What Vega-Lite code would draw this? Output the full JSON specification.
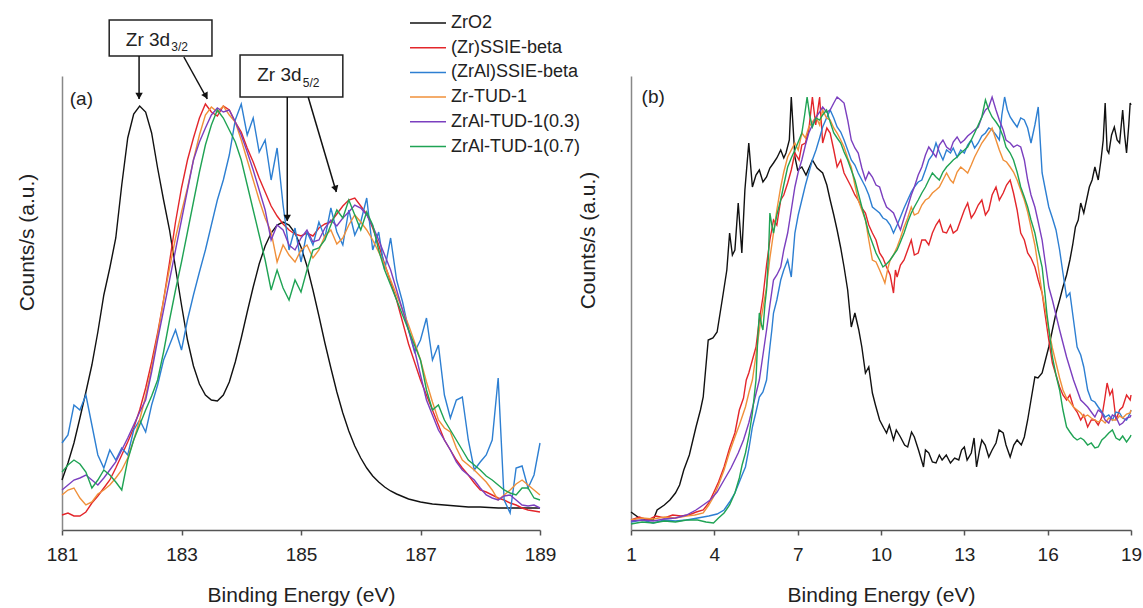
{
  "$schema": "https://vega.github.io/schema/vega-lite/v6.json",
  "padding": {"left": 16, "top": 14, "right": 5, "bottom": 5},
  "spacing": 21,
  "config": {
    "view": {"stroke": null},
    "font": "Liberation Sans",
    "axis": {
      "labelFont": "Liberation Sans", "labelFontSize": 19, "labelColor": "#222",
      "titleFont": "Liberation Sans", "titleFontSize": 21, "titleFontWeight": "normal", "titleColor": "#222",
      "grid": false, "labelFlush": false
    },
    "axisX": {"domainColor": "#555", "domainWidth": 1.5, "tickColor": "#555", "tickWidth": 1.5, "tickSize": 5, "labelPadding": 10, "titlePadding": 20},
    "axisY": {"domainColor": "#888", "domainWidth": 1.5, "ticks": false, "labels": false}
  },
  "datasets": {
    "left": [
      {"s":"ZrO2","x":181.0,"y":50},{"s":"ZrO2","x":181.1,"y":67},{"s":"ZrO2","x":181.2,"y":87},{"s":"ZrO2","x":181.3,"y":112},{"s":"ZrO2","x":181.4,"y":138},{"s":"ZrO2","x":181.5,"y":165},{"s":"ZrO2","x":181.6,"y":198},{"s":"ZrO2","x":181.7,"y":235},{"s":"ZrO2","x":181.8,"y":262},{"s":"ZrO2","x":181.9,"y":292},{"s":"ZrO2","x":182.0,"y":345},{"s":"ZrO2","x":182.1,"y":392},{"s":"ZrO2","x":182.2,"y":416},{"s":"ZrO2","x":182.3,"y":424},{"s":"ZrO2","x":182.4,"y":418},{"s":"ZrO2","x":182.5,"y":397},{"s":"ZrO2","x":182.6,"y":362},{"s":"ZrO2","x":182.7,"y":330},{"s":"ZrO2","x":182.8,"y":300},{"s":"ZrO2","x":182.9,"y":262},{"s":"ZrO2","x":183.0,"y":225},{"s":"ZrO2","x":183.1,"y":190},{"s":"ZrO2","x":183.2,"y":164},{"s":"ZrO2","x":183.3,"y":146},{"s":"ZrO2","x":183.4,"y":135},{"s":"ZrO2","x":183.5,"y":130},{"s":"ZrO2","x":183.6,"y":129},{"s":"ZrO2","x":183.7,"y":135},{"s":"ZrO2","x":183.8,"y":148},{"s":"ZrO2","x":183.9,"y":168},{"s":"ZrO2","x":184.0,"y":192},{"s":"ZrO2","x":184.1,"y":218},{"s":"ZrO2","x":184.2,"y":243},{"s":"ZrO2","x":184.3,"y":266},{"s":"ZrO2","x":184.4,"y":284},{"s":"ZrO2","x":184.5,"y":297},{"s":"ZrO2","x":184.6,"y":305},{"s":"ZrO2","x":184.7,"y":308},{"s":"ZrO2","x":184.8,"y":305},{"s":"ZrO2","x":184.9,"y":297},{"s":"ZrO2","x":185.0,"y":283},{"s":"ZrO2","x":185.1,"y":264},{"s":"ZrO2","x":185.2,"y":240},{"s":"ZrO2","x":185.3,"y":214},{"s":"ZrO2","x":185.4,"y":187},{"s":"ZrO2","x":185.5,"y":162},{"s":"ZrO2","x":185.6,"y":138},{"s":"ZrO2","x":185.7,"y":117},{"s":"ZrO2","x":185.8,"y":99},{"s":"ZrO2","x":185.9,"y":84},{"s":"ZrO2","x":186.0,"y":72},{"s":"ZrO2","x":186.1,"y":62},{"s":"ZrO2","x":186.2,"y":54},{"s":"ZrO2","x":186.3,"y":48},{"s":"ZrO2","x":186.4,"y":43},{"s":"ZrO2","x":186.5,"y":39},{"s":"ZrO2","x":186.6,"y":36},{"s":"ZrO2","x":186.8,"y":31},{"s":"ZrO2","x":187.0,"y":28},{"s":"ZrO2","x":187.2,"y":26},{"s":"ZrO2","x":187.4,"y":25},{"s":"ZrO2","x":187.6,"y":24},{"s":"ZrO2","x":187.8,"y":23},{"s":"ZrO2","x":188.0,"y":23},{"s":"ZrO2","x":188.3,"y":22},{"s":"ZrO2","x":188.6,"y":22},{"s":"ZrO2","x":189.0,"y":22},
      {"s":"(Zr)SSIE-beta","x":181.0,"y":15},{"s":"(Zr)SSIE-beta","x":181.1,"y":17},{"s":"(Zr)SSIE-beta","x":181.2,"y":14},{"s":"(Zr)SSIE-beta","x":181.3,"y":14},{"s":"(Zr)SSIE-beta","x":181.4,"y":18},{"s":"(Zr)SSIE-beta","x":181.5,"y":27},{"s":"(Zr)SSIE-beta","x":181.6,"y":34},{"s":"(Zr)SSIE-beta","x":181.7,"y":42},{"s":"(Zr)SSIE-beta","x":181.8,"y":50},{"s":"(Zr)SSIE-beta","x":181.9,"y":62},{"s":"(Zr)SSIE-beta","x":182.0,"y":75},{"s":"(Zr)SSIE-beta","x":182.1,"y":88},{"s":"(Zr)SSIE-beta","x":182.2,"y":102},{"s":"(Zr)SSIE-beta","x":182.3,"y":120},{"s":"(Zr)SSIE-beta","x":182.4,"y":142},{"s":"(Zr)SSIE-beta","x":182.5,"y":168},{"s":"(Zr)SSIE-beta","x":182.6,"y":197},{"s":"(Zr)SSIE-beta","x":182.7,"y":230},{"s":"(Zr)SSIE-beta","x":182.8,"y":268},{"s":"(Zr)SSIE-beta","x":182.9,"y":308},{"s":"(Zr)SSIE-beta","x":183.0,"y":342},{"s":"(Zr)SSIE-beta","x":183.1,"y":370},{"s":"(Zr)SSIE-beta","x":183.2,"y":392},{"s":"(Zr)SSIE-beta","x":183.3,"y":412},{"s":"(Zr)SSIE-beta","x":183.4,"y":426},{"s":"(Zr)SSIE-beta","x":183.5,"y":418},{"s":"(Zr)SSIE-beta","x":183.6,"y":414},{"s":"(Zr)SSIE-beta","x":183.7,"y":424},{"s":"(Zr)SSIE-beta","x":183.8,"y":420},{"s":"(Zr)SSIE-beta","x":183.9,"y":408},{"s":"(Zr)SSIE-beta","x":184.0,"y":398},{"s":"(Zr)SSIE-beta","x":184.1,"y":382},{"s":"(Zr)SSIE-beta","x":184.2,"y":368},{"s":"(Zr)SSIE-beta","x":184.3,"y":352},{"s":"(Zr)SSIE-beta","x":184.4,"y":338},{"s":"(Zr)SSIE-beta","x":184.5,"y":324},{"s":"(Zr)SSIE-beta","x":184.6,"y":314},{"s":"(Zr)SSIE-beta","x":184.7,"y":306},{"s":"(Zr)SSIE-beta","x":184.8,"y":300},{"s":"(Zr)SSIE-beta","x":184.9,"y":296},{"s":"(Zr)SSIE-beta","x":185.0,"y":294},{"s":"(Zr)SSIE-beta","x":185.1,"y":297},{"s":"(Zr)SSIE-beta","x":185.2,"y":294},{"s":"(Zr)SSIE-beta","x":185.3,"y":302},{"s":"(Zr)SSIE-beta","x":185.4,"y":306},{"s":"(Zr)SSIE-beta","x":185.5,"y":308},{"s":"(Zr)SSIE-beta","x":185.6,"y":316},{"s":"(Zr)SSIE-beta","x":185.7,"y":324},{"s":"(Zr)SSIE-beta","x":185.8,"y":330},{"s":"(Zr)SSIE-beta","x":185.9,"y":332},{"s":"(Zr)SSIE-beta","x":186.0,"y":324},{"s":"(Zr)SSIE-beta","x":186.1,"y":316},{"s":"(Zr)SSIE-beta","x":186.2,"y":302},{"s":"(Zr)SSIE-beta","x":186.3,"y":285},{"s":"(Zr)SSIE-beta","x":186.4,"y":266},{"s":"(Zr)SSIE-beta","x":186.5,"y":248},{"s":"(Zr)SSIE-beta","x":186.6,"y":230},{"s":"(Zr)SSIE-beta","x":186.7,"y":208},{"s":"(Zr)SSIE-beta","x":186.8,"y":186},{"s":"(Zr)SSIE-beta","x":186.9,"y":168},{"s":"(Zr)SSIE-beta","x":187.0,"y":150},{"s":"(Zr)SSIE-beta","x":187.1,"y":135},{"s":"(Zr)SSIE-beta","x":187.2,"y":120},{"s":"(Zr)SSIE-beta","x":187.3,"y":105},{"s":"(Zr)SSIE-beta","x":187.4,"y":90},{"s":"(Zr)SSIE-beta","x":187.5,"y":80},{"s":"(Zr)SSIE-beta","x":187.6,"y":70},{"s":"(Zr)SSIE-beta","x":187.7,"y":62},{"s":"(Zr)SSIE-beta","x":187.8,"y":55},{"s":"(Zr)SSIE-beta","x":187.9,"y":47},{"s":"(Zr)SSIE-beta","x":188.0,"y":40},{"s":"(Zr)SSIE-beta","x":188.1,"y":38},{"s":"(Zr)SSIE-beta","x":188.2,"y":35},{"s":"(Zr)SSIE-beta","x":188.3,"y":32},{"s":"(Zr)SSIE-beta","x":188.4,"y":30},{"s":"(Zr)SSIE-beta","x":188.5,"y":27},{"s":"(Zr)SSIE-beta","x":188.6,"y":25},{"s":"(Zr)SSIE-beta","x":188.7,"y":22},{"s":"(Zr)SSIE-beta","x":188.8,"y":20},{"s":"(Zr)SSIE-beta","x":188.9,"y":19},{"s":"(Zr)SSIE-beta","x":189.0,"y":18},
      {"s":"(ZrAl)SSIE-beta","x":181.0,"y":87},{"s":"(ZrAl)SSIE-beta","x":181.1,"y":95},{"s":"(ZrAl)SSIE-beta","x":181.2,"y":125},{"s":"(ZrAl)SSIE-beta","x":181.3,"y":120},{"s":"(ZrAl)SSIE-beta","x":181.4,"y":135},{"s":"(ZrAl)SSIE-beta","x":181.5,"y":105},{"s":"(ZrAl)SSIE-beta","x":181.6,"y":75},{"s":"(ZrAl)SSIE-beta","x":181.7,"y":62},{"s":"(ZrAl)SSIE-beta","x":181.8,"y":80},{"s":"(ZrAl)SSIE-beta","x":181.9,"y":70},{"s":"(ZrAl)SSIE-beta","x":182.0,"y":82},{"s":"(ZrAl)SSIE-beta","x":182.1,"y":75},{"s":"(ZrAl)SSIE-beta","x":182.2,"y":100},{"s":"(ZrAl)SSIE-beta","x":182.3,"y":110},{"s":"(ZrAl)SSIE-beta","x":182.4,"y":98},{"s":"(ZrAl)SSIE-beta","x":182.5,"y":125},{"s":"(ZrAl)SSIE-beta","x":182.6,"y":145},{"s":"(ZrAl)SSIE-beta","x":182.7,"y":170},{"s":"(ZrAl)SSIE-beta","x":182.8,"y":185},{"s":"(ZrAl)SSIE-beta","x":182.9,"y":200},{"s":"(ZrAl)SSIE-beta","x":183.0,"y":180},{"s":"(ZrAl)SSIE-beta","x":183.1,"y":210},{"s":"(ZrAl)SSIE-beta","x":183.2,"y":235},{"s":"(ZrAl)SSIE-beta","x":183.3,"y":258},{"s":"(ZrAl)SSIE-beta","x":183.4,"y":280},{"s":"(ZrAl)SSIE-beta","x":183.5,"y":305},{"s":"(ZrAl)SSIE-beta","x":183.6,"y":330},{"s":"(ZrAl)SSIE-beta","x":183.7,"y":350},{"s":"(ZrAl)SSIE-beta","x":183.8,"y":375},{"s":"(ZrAl)SSIE-beta","x":183.9,"y":410},{"s":"(ZrAl)SSIE-beta","x":184.0,"y":426},{"s":"(ZrAl)SSIE-beta","x":184.1,"y":395},{"s":"(ZrAl)SSIE-beta","x":184.2,"y":412},{"s":"(ZrAl)SSIE-beta","x":184.3,"y":378},{"s":"(ZrAl)SSIE-beta","x":184.4,"y":390},{"s":"(ZrAl)SSIE-beta","x":184.5,"y":350},{"s":"(ZrAl)SSIE-beta","x":184.6,"y":382},{"s":"(ZrAl)SSIE-beta","x":184.7,"y":325},{"s":"(ZrAl)SSIE-beta","x":184.8,"y":280},{"s":"(ZrAl)SSIE-beta","x":184.9,"y":302},{"s":"(ZrAl)SSIE-beta","x":185.0,"y":268},{"s":"(ZrAl)SSIE-beta","x":185.1,"y":298},{"s":"(ZrAl)SSIE-beta","x":185.2,"y":285},{"s":"(ZrAl)SSIE-beta","x":185.3,"y":308},{"s":"(ZrAl)SSIE-beta","x":185.4,"y":292},{"s":"(ZrAl)SSIE-beta","x":185.5,"y":322},{"s":"(ZrAl)SSIE-beta","x":185.6,"y":298},{"s":"(ZrAl)SSIE-beta","x":185.7,"y":285},{"s":"(ZrAl)SSIE-beta","x":185.8,"y":320},{"s":"(ZrAl)SSIE-beta","x":185.9,"y":295},{"s":"(ZrAl)SSIE-beta","x":186.0,"y":308},{"s":"(ZrAl)SSIE-beta","x":186.1,"y":332},{"s":"(ZrAl)SSIE-beta","x":186.2,"y":280},{"s":"(ZrAl)SSIE-beta","x":186.3,"y":298},{"s":"(ZrAl)SSIE-beta","x":186.4,"y":260},{"s":"(ZrAl)SSIE-beta","x":186.5,"y":292},{"s":"(ZrAl)SSIE-beta","x":186.6,"y":250},{"s":"(ZrAl)SSIE-beta","x":186.7,"y":228},{"s":"(ZrAl)SSIE-beta","x":186.8,"y":200},{"s":"(ZrAl)SSIE-beta","x":186.9,"y":178},{"s":"(ZrAl)SSIE-beta","x":187.0,"y":190},{"s":"(ZrAl)SSIE-beta","x":187.1,"y":212},{"s":"(ZrAl)SSIE-beta","x":187.2,"y":170},{"s":"(ZrAl)SSIE-beta","x":187.3,"y":185},{"s":"(ZrAl)SSIE-beta","x":187.4,"y":135},{"s":"(ZrAl)SSIE-beta","x":187.5,"y":112},{"s":"(ZrAl)SSIE-beta","x":187.6,"y":130},{"s":"(ZrAl)SSIE-beta","x":187.7,"y":133},{"s":"(ZrAl)SSIE-beta","x":187.8,"y":90},{"s":"(ZrAl)SSIE-beta","x":187.9,"y":60},{"s":"(ZrAl)SSIE-beta","x":188.0,"y":68},{"s":"(ZrAl)SSIE-beta","x":188.1,"y":75},{"s":"(ZrAl)SSIE-beta","x":188.2,"y":90},{"s":"(ZrAl)SSIE-beta","x":188.3,"y":152},{"s":"(ZrAl)SSIE-beta","x":188.4,"y":30},{"s":"(ZrAl)SSIE-beta","x":188.5,"y":17},{"s":"(ZrAl)SSIE-beta","x":188.6,"y":62},{"s":"(ZrAl)SSIE-beta","x":188.7,"y":64},{"s":"(ZrAl)SSIE-beta","x":188.8,"y":42},{"s":"(ZrAl)SSIE-beta","x":188.9,"y":55},{"s":"(ZrAl)SSIE-beta","x":189.0,"y":87},
      {"s":"Zr-TUD-1","x":181.0,"y":35},{"s":"Zr-TUD-1","x":181.1,"y":40},{"s":"Zr-TUD-1","x":181.2,"y":42},{"s":"Zr-TUD-1","x":181.3,"y":32},{"s":"Zr-TUD-1","x":181.4,"y":25},{"s":"Zr-TUD-1","x":181.5,"y":28},{"s":"Zr-TUD-1","x":181.6,"y":36},{"s":"Zr-TUD-1","x":181.7,"y":40},{"s":"Zr-TUD-1","x":181.8,"y":45},{"s":"Zr-TUD-1","x":181.9,"y":52},{"s":"Zr-TUD-1","x":182.0,"y":60},{"s":"Zr-TUD-1","x":182.1,"y":72},{"s":"Zr-TUD-1","x":182.2,"y":90},{"s":"Zr-TUD-1","x":182.3,"y":110},{"s":"Zr-TUD-1","x":182.4,"y":134},{"s":"Zr-TUD-1","x":182.5,"y":162},{"s":"Zr-TUD-1","x":182.6,"y":194},{"s":"Zr-TUD-1","x":182.7,"y":230},{"s":"Zr-TUD-1","x":182.8,"y":262},{"s":"Zr-TUD-1","x":182.9,"y":292},{"s":"Zr-TUD-1","x":183.0,"y":318},{"s":"Zr-TUD-1","x":183.1,"y":342},{"s":"Zr-TUD-1","x":183.2,"y":370},{"s":"Zr-TUD-1","x":183.3,"y":395},{"s":"Zr-TUD-1","x":183.4,"y":415},{"s":"Zr-TUD-1","x":183.5,"y":423},{"s":"Zr-TUD-1","x":183.6,"y":418},{"s":"Zr-TUD-1","x":183.7,"y":424},{"s":"Zr-TUD-1","x":183.8,"y":415},{"s":"Zr-TUD-1","x":183.9,"y":408},{"s":"Zr-TUD-1","x":184.0,"y":390},{"s":"Zr-TUD-1","x":184.1,"y":370},{"s":"Zr-TUD-1","x":184.2,"y":350},{"s":"Zr-TUD-1","x":184.3,"y":330},{"s":"Zr-TUD-1","x":184.4,"y":312},{"s":"Zr-TUD-1","x":184.5,"y":298},{"s":"Zr-TUD-1","x":184.6,"y":268},{"s":"Zr-TUD-1","x":184.7,"y":285},{"s":"Zr-TUD-1","x":184.8,"y":275},{"s":"Zr-TUD-1","x":184.9,"y":268},{"s":"Zr-TUD-1","x":185.0,"y":280},{"s":"Zr-TUD-1","x":185.1,"y":285},{"s":"Zr-TUD-1","x":185.2,"y":272},{"s":"Zr-TUD-1","x":185.3,"y":280},{"s":"Zr-TUD-1","x":185.4,"y":294},{"s":"Zr-TUD-1","x":185.5,"y":300},{"s":"Zr-TUD-1","x":185.6,"y":286},{"s":"Zr-TUD-1","x":185.7,"y":292},{"s":"Zr-TUD-1","x":185.8,"y":305},{"s":"Zr-TUD-1","x":185.9,"y":315},{"s":"Zr-TUD-1","x":186.0,"y":308},{"s":"Zr-TUD-1","x":186.1,"y":300},{"s":"Zr-TUD-1","x":186.2,"y":290},{"s":"Zr-TUD-1","x":186.3,"y":278},{"s":"Zr-TUD-1","x":186.4,"y":265},{"s":"Zr-TUD-1","x":186.5,"y":250},{"s":"Zr-TUD-1","x":186.6,"y":235},{"s":"Zr-TUD-1","x":186.7,"y":220},{"s":"Zr-TUD-1","x":186.8,"y":205},{"s":"Zr-TUD-1","x":186.9,"y":188},{"s":"Zr-TUD-1","x":187.0,"y":170},{"s":"Zr-TUD-1","x":187.1,"y":148},{"s":"Zr-TUD-1","x":187.2,"y":128},{"s":"Zr-TUD-1","x":187.3,"y":110},{"s":"Zr-TUD-1","x":187.4,"y":102},{"s":"Zr-TUD-1","x":187.5,"y":98},{"s":"Zr-TUD-1","x":187.6,"y":82},{"s":"Zr-TUD-1","x":187.7,"y":70},{"s":"Zr-TUD-1","x":187.8,"y":65},{"s":"Zr-TUD-1","x":187.9,"y":60},{"s":"Zr-TUD-1","x":188.0,"y":54},{"s":"Zr-TUD-1","x":188.1,"y":48},{"s":"Zr-TUD-1","x":188.2,"y":40},{"s":"Zr-TUD-1","x":188.3,"y":30},{"s":"Zr-TUD-1","x":188.4,"y":35},{"s":"Zr-TUD-1","x":188.5,"y":40},{"s":"Zr-TUD-1","x":188.6,"y":46},{"s":"Zr-TUD-1","x":188.7,"y":50},{"s":"Zr-TUD-1","x":188.8,"y":45},{"s":"Zr-TUD-1","x":188.9,"y":40},{"s":"Zr-TUD-1","x":189.0,"y":35},
      {"s":"ZrAl-TUD-1(0.3)","x":181.0,"y":40},{"s":"ZrAl-TUD-1(0.3)","x":181.1,"y":45},{"s":"ZrAl-TUD-1(0.3)","x":181.2,"y":50},{"s":"ZrAl-TUD-1(0.3)","x":181.3,"y":52},{"s":"ZrAl-TUD-1(0.3)","x":181.4,"y":55},{"s":"ZrAl-TUD-1(0.3)","x":181.5,"y":50},{"s":"ZrAl-TUD-1(0.3)","x":181.6,"y":45},{"s":"ZrAl-TUD-1(0.3)","x":181.7,"y":52},{"s":"ZrAl-TUD-1(0.3)","x":181.8,"y":60},{"s":"ZrAl-TUD-1(0.3)","x":181.9,"y":68},{"s":"ZrAl-TUD-1(0.3)","x":182.0,"y":80},{"s":"ZrAl-TUD-1(0.3)","x":182.1,"y":92},{"s":"ZrAl-TUD-1(0.3)","x":182.2,"y":105},{"s":"ZrAl-TUD-1(0.3)","x":182.3,"y":118},{"s":"ZrAl-TUD-1(0.3)","x":182.4,"y":130},{"s":"ZrAl-TUD-1(0.3)","x":182.5,"y":158},{"s":"ZrAl-TUD-1(0.3)","x":182.6,"y":190},{"s":"ZrAl-TUD-1(0.3)","x":182.7,"y":220},{"s":"ZrAl-TUD-1(0.3)","x":182.8,"y":250},{"s":"ZrAl-TUD-1(0.3)","x":182.9,"y":280},{"s":"ZrAl-TUD-1(0.3)","x":183.0,"y":310},{"s":"ZrAl-TUD-1(0.3)","x":183.1,"y":340},{"s":"ZrAl-TUD-1(0.3)","x":183.2,"y":370},{"s":"ZrAl-TUD-1(0.3)","x":183.3,"y":388},{"s":"ZrAl-TUD-1(0.3)","x":183.4,"y":402},{"s":"ZrAl-TUD-1(0.3)","x":183.5,"y":415},{"s":"ZrAl-TUD-1(0.3)","x":183.6,"y":422},{"s":"ZrAl-TUD-1(0.3)","x":183.7,"y":418},{"s":"ZrAl-TUD-1(0.3)","x":183.8,"y":420},{"s":"ZrAl-TUD-1(0.3)","x":183.9,"y":408},{"s":"ZrAl-TUD-1(0.3)","x":184.0,"y":395},{"s":"ZrAl-TUD-1(0.3)","x":184.1,"y":378},{"s":"ZrAl-TUD-1(0.3)","x":184.2,"y":360},{"s":"ZrAl-TUD-1(0.3)","x":184.3,"y":340},{"s":"ZrAl-TUD-1(0.3)","x":184.4,"y":320},{"s":"ZrAl-TUD-1(0.3)","x":184.5,"y":290},{"s":"ZrAl-TUD-1(0.3)","x":184.6,"y":305},{"s":"ZrAl-TUD-1(0.3)","x":184.7,"y":300},{"s":"ZrAl-TUD-1(0.3)","x":184.8,"y":285},{"s":"ZrAl-TUD-1(0.3)","x":184.9,"y":280},{"s":"ZrAl-TUD-1(0.3)","x":185.0,"y":292},{"s":"ZrAl-TUD-1(0.3)","x":185.1,"y":300},{"s":"ZrAl-TUD-1(0.3)","x":185.2,"y":288},{"s":"ZrAl-TUD-1(0.3)","x":185.3,"y":290},{"s":"ZrAl-TUD-1(0.3)","x":185.4,"y":302},{"s":"ZrAl-TUD-1(0.3)","x":185.5,"y":310},{"s":"ZrAl-TUD-1(0.3)","x":185.6,"y":304},{"s":"ZrAl-TUD-1(0.3)","x":185.7,"y":312},{"s":"ZrAl-TUD-1(0.3)","x":185.8,"y":318},{"s":"ZrAl-TUD-1(0.3)","x":185.9,"y":325},{"s":"ZrAl-TUD-1(0.3)","x":186.0,"y":322},{"s":"ZrAl-TUD-1(0.3)","x":186.1,"y":315},{"s":"ZrAl-TUD-1(0.3)","x":186.2,"y":304},{"s":"ZrAl-TUD-1(0.3)","x":186.3,"y":290},{"s":"ZrAl-TUD-1(0.3)","x":186.4,"y":275},{"s":"ZrAl-TUD-1(0.3)","x":186.5,"y":260},{"s":"ZrAl-TUD-1(0.3)","x":186.6,"y":240},{"s":"ZrAl-TUD-1(0.3)","x":186.7,"y":220},{"s":"ZrAl-TUD-1(0.3)","x":186.8,"y":200},{"s":"ZrAl-TUD-1(0.3)","x":186.9,"y":180},{"s":"ZrAl-TUD-1(0.3)","x":187.0,"y":155},{"s":"ZrAl-TUD-1(0.3)","x":187.1,"y":130},{"s":"ZrAl-TUD-1(0.3)","x":187.2,"y":115},{"s":"ZrAl-TUD-1(0.3)","x":187.3,"y":100},{"s":"ZrAl-TUD-1(0.3)","x":187.4,"y":90},{"s":"ZrAl-TUD-1(0.3)","x":187.5,"y":80},{"s":"ZrAl-TUD-1(0.3)","x":187.6,"y":68},{"s":"ZrAl-TUD-1(0.3)","x":187.7,"y":60},{"s":"ZrAl-TUD-1(0.3)","x":187.8,"y":55},{"s":"ZrAl-TUD-1(0.3)","x":187.9,"y":50},{"s":"ZrAl-TUD-1(0.3)","x":188.0,"y":42},{"s":"ZrAl-TUD-1(0.3)","x":188.1,"y":35},{"s":"ZrAl-TUD-1(0.3)","x":188.2,"y":32},{"s":"ZrAl-TUD-1(0.3)","x":188.3,"y":30},{"s":"ZrAl-TUD-1(0.3)","x":188.4,"y":34},{"s":"ZrAl-TUD-1(0.3)","x":188.5,"y":35},{"s":"ZrAl-TUD-1(0.3)","x":188.6,"y":30},{"s":"ZrAl-TUD-1(0.3)","x":188.7,"y":25},{"s":"ZrAl-TUD-1(0.3)","x":188.8,"y":24},{"s":"ZrAl-TUD-1(0.3)","x":188.9,"y":25},{"s":"ZrAl-TUD-1(0.3)","x":189.0,"y":22},
      {"s":"ZrAl-TUD-1(0.7)","x":181.0,"y":58},{"s":"ZrAl-TUD-1(0.7)","x":181.1,"y":65},{"s":"ZrAl-TUD-1(0.7)","x":181.2,"y":70},{"s":"ZrAl-TUD-1(0.7)","x":181.3,"y":66},{"s":"ZrAl-TUD-1(0.7)","x":181.4,"y":58},{"s":"ZrAl-TUD-1(0.7)","x":181.5,"y":42},{"s":"ZrAl-TUD-1(0.7)","x":181.6,"y":50},{"s":"ZrAl-TUD-1(0.7)","x":181.7,"y":60},{"s":"ZrAl-TUD-1(0.7)","x":181.8,"y":55},{"s":"ZrAl-TUD-1(0.7)","x":181.9,"y":48},{"s":"ZrAl-TUD-1(0.7)","x":182.0,"y":40},{"s":"ZrAl-TUD-1(0.7)","x":182.1,"y":70},{"s":"ZrAl-TUD-1(0.7)","x":182.2,"y":90},{"s":"ZrAl-TUD-1(0.7)","x":182.3,"y":105},{"s":"ZrAl-TUD-1(0.7)","x":182.4,"y":120},{"s":"ZrAl-TUD-1(0.7)","x":182.5,"y":134},{"s":"ZrAl-TUD-1(0.7)","x":182.6,"y":150},{"s":"ZrAl-TUD-1(0.7)","x":182.7,"y":178},{"s":"ZrAl-TUD-1(0.7)","x":182.8,"y":210},{"s":"ZrAl-TUD-1(0.7)","x":182.9,"y":240},{"s":"ZrAl-TUD-1(0.7)","x":183.0,"y":268},{"s":"ZrAl-TUD-1(0.7)","x":183.1,"y":298},{"s":"ZrAl-TUD-1(0.7)","x":183.2,"y":328},{"s":"ZrAl-TUD-1(0.7)","x":183.3,"y":358},{"s":"ZrAl-TUD-1(0.7)","x":183.4,"y":385},{"s":"ZrAl-TUD-1(0.7)","x":183.5,"y":405},{"s":"ZrAl-TUD-1(0.7)","x":183.6,"y":420},{"s":"ZrAl-TUD-1(0.7)","x":183.7,"y":412},{"s":"ZrAl-TUD-1(0.7)","x":183.8,"y":400},{"s":"ZrAl-TUD-1(0.7)","x":183.9,"y":388},{"s":"ZrAl-TUD-1(0.7)","x":184.0,"y":370},{"s":"ZrAl-TUD-1(0.7)","x":184.1,"y":345},{"s":"ZrAl-TUD-1(0.7)","x":184.2,"y":320},{"s":"ZrAl-TUD-1(0.7)","x":184.3,"y":295},{"s":"ZrAl-TUD-1(0.7)","x":184.4,"y":270},{"s":"ZrAl-TUD-1(0.7)","x":184.5,"y":240},{"s":"ZrAl-TUD-1(0.7)","x":184.6,"y":260},{"s":"ZrAl-TUD-1(0.7)","x":184.7,"y":242},{"s":"ZrAl-TUD-1(0.7)","x":184.8,"y":230},{"s":"ZrAl-TUD-1(0.7)","x":184.9,"y":250},{"s":"ZrAl-TUD-1(0.7)","x":185.0,"y":238},{"s":"ZrAl-TUD-1(0.7)","x":185.1,"y":260},{"s":"ZrAl-TUD-1(0.7)","x":185.2,"y":280},{"s":"ZrAl-TUD-1(0.7)","x":185.3,"y":282},{"s":"ZrAl-TUD-1(0.7)","x":185.4,"y":290},{"s":"ZrAl-TUD-1(0.7)","x":185.5,"y":305},{"s":"ZrAl-TUD-1(0.7)","x":185.6,"y":320},{"s":"ZrAl-TUD-1(0.7)","x":185.7,"y":312},{"s":"ZrAl-TUD-1(0.7)","x":185.8,"y":330},{"s":"ZrAl-TUD-1(0.7)","x":185.9,"y":315},{"s":"ZrAl-TUD-1(0.7)","x":186.0,"y":300},{"s":"ZrAl-TUD-1(0.7)","x":186.1,"y":318},{"s":"ZrAl-TUD-1(0.7)","x":186.2,"y":305},{"s":"ZrAl-TUD-1(0.7)","x":186.3,"y":280},{"s":"ZrAl-TUD-1(0.7)","x":186.4,"y":260},{"s":"ZrAl-TUD-1(0.7)","x":186.5,"y":245},{"s":"ZrAl-TUD-1(0.7)","x":186.6,"y":230},{"s":"ZrAl-TUD-1(0.7)","x":186.7,"y":215},{"s":"ZrAl-TUD-1(0.7)","x":186.8,"y":200},{"s":"ZrAl-TUD-1(0.7)","x":186.9,"y":185},{"s":"ZrAl-TUD-1(0.7)","x":187.0,"y":170},{"s":"ZrAl-TUD-1(0.7)","x":187.1,"y":140},{"s":"ZrAl-TUD-1(0.7)","x":187.2,"y":120},{"s":"ZrAl-TUD-1(0.7)","x":187.3,"y":125},{"s":"ZrAl-TUD-1(0.7)","x":187.4,"y":110},{"s":"ZrAl-TUD-1(0.7)","x":187.5,"y":100},{"s":"ZrAl-TUD-1(0.7)","x":187.6,"y":90},{"s":"ZrAl-TUD-1(0.7)","x":187.7,"y":80},{"s":"ZrAl-TUD-1(0.7)","x":187.8,"y":70},{"s":"ZrAl-TUD-1(0.7)","x":187.9,"y":65},{"s":"ZrAl-TUD-1(0.7)","x":188.0,"y":60},{"s":"ZrAl-TUD-1(0.7)","x":188.1,"y":54},{"s":"ZrAl-TUD-1(0.7)","x":188.2,"y":50},{"s":"ZrAl-TUD-1(0.7)","x":188.3,"y":45},{"s":"ZrAl-TUD-1(0.7)","x":188.4,"y":40},{"s":"ZrAl-TUD-1(0.7)","x":188.5,"y":37},{"s":"ZrAl-TUD-1(0.7)","x":188.6,"y":35},{"s":"ZrAl-TUD-1(0.7)","x":188.7,"y":42},{"s":"ZrAl-TUD-1(0.7)","x":188.8,"y":42},{"s":"ZrAl-TUD-1(0.7)","x":188.9,"y":32},{"s":"ZrAl-TUD-1(0.7)","x":189.0,"y":30}
    ],
    "right": [
      {"s":"ZrO2","x":1.0,"y":18},{"s":"ZrO2","x":1.3,"y":12},{"s":"ZrO2","x":1.6,"y":10},{"s":"ZrO2","x":1.8,"y":10},{"s":"ZrO2","x":1.94,"y":20},{"s":"ZrO2","x":2.2,"y":25},{"s":"ZrO2","x":2.4,"y":30},{"s":"ZrO2","x":2.6,"y":37},{"s":"ZrO2","x":2.75,"y":45},{"s":"ZrO2","x":2.9,"y":60},{"s":"ZrO2","x":3.1,"y":75},{"s":"ZrO2","x":3.34,"y":103},{"s":"ZrO2","x":3.5,"y":120},{"s":"ZrO2","x":3.6,"y":133},{"s":"ZrO2","x":3.78,"y":190},{"s":"ZrO2","x":3.95,"y":192},{"s":"ZrO2","x":4.1,"y":198},{"s":"ZrO2","x":4.3,"y":233},{"s":"ZrO2","x":4.45,"y":260},{"s":"ZrO2","x":4.55,"y":297},{"s":"ZrO2","x":4.65,"y":275},{"s":"ZrO2","x":4.74,"y":280},{"s":"ZrO2","x":4.86,"y":327},{"s":"ZrO2","x":4.99,"y":277},{"s":"ZrO2","x":5.1,"y":340},{"s":"ZrO2","x":5.24,"y":387},{"s":"ZrO2","x":5.37,"y":343},{"s":"ZrO2","x":5.5,"y":355},{"s":"ZrO2","x":5.62,"y":360},{"s":"ZrO2","x":5.75,"y":348},{"s":"ZrO2","x":5.88,"y":353},{"s":"ZrO2","x":6.0,"y":362},{"s":"ZrO2","x":6.13,"y":367},{"s":"ZrO2","x":6.25,"y":372},{"s":"ZrO2","x":6.39,"y":380},{"s":"ZrO2","x":6.5,"y":372},{"s":"ZrO2","x":6.58,"y":377},{"s":"ZrO2","x":6.7,"y":390},{"s":"ZrO2","x":6.77,"y":433},{"s":"ZrO2","x":6.9,"y":373},{"s":"ZrO2","x":7.0,"y":360},{"s":"ZrO2","x":7.15,"y":363},{"s":"ZrO2","x":7.3,"y":355},{"s":"ZrO2","x":7.53,"y":370},{"s":"ZrO2","x":7.7,"y":362},{"s":"ZrO2","x":7.9,"y":357},{"s":"ZrO2","x":8.05,"y":345},{"s":"ZrO2","x":8.17,"y":330},{"s":"ZrO2","x":8.3,"y":315},{"s":"ZrO2","x":8.42,"y":300},{"s":"ZrO2","x":8.55,"y":282},{"s":"ZrO2","x":8.67,"y":263},{"s":"ZrO2","x":8.8,"y":240},{"s":"ZrO2","x":8.87,"y":220},{"s":"ZrO2","x":8.93,"y":203},{"s":"ZrO2","x":9.06,"y":217},{"s":"ZrO2","x":9.2,"y":200},{"s":"ZrO2","x":9.31,"y":183},{"s":"ZrO2","x":9.44,"y":157},{"s":"ZrO2","x":9.56,"y":163},{"s":"ZrO2","x":9.69,"y":137},{"s":"ZrO2","x":9.8,"y":125},{"s":"ZrO2","x":9.95,"y":110},{"s":"ZrO2","x":10.1,"y":102},{"s":"ZrO2","x":10.2,"y":97},{"s":"ZrO2","x":10.3,"y":105},{"s":"ZrO2","x":10.45,"y":90},{"s":"ZrO2","x":10.55,"y":100},{"s":"ZrO2","x":10.7,"y":93},{"s":"ZrO2","x":10.85,"y":85},{"s":"ZrO2","x":10.96,"y":83},{"s":"ZrO2","x":11.1,"y":98},{"s":"ZrO2","x":11.2,"y":93},{"s":"ZrO2","x":11.35,"y":80},{"s":"ZrO2","x":11.53,"y":63},{"s":"ZrO2","x":11.6,"y":80},{"s":"ZrO2","x":11.72,"y":77},{"s":"ZrO2","x":11.85,"y":68},{"s":"ZrO2","x":11.98,"y":67},{"s":"ZrO2","x":12.1,"y":75},{"s":"ZrO2","x":12.2,"y":70},{"s":"ZrO2","x":12.35,"y":75},{"s":"ZrO2","x":12.5,"y":67},{"s":"ZrO2","x":12.65,"y":72},{"s":"ZrO2","x":12.8,"y":70},{"s":"ZrO2","x":12.9,"y":80},{"s":"ZrO2","x":13.0,"y":83},{"s":"ZrO2","x":13.1,"y":70},{"s":"ZrO2","x":13.25,"y":77},{"s":"ZrO2","x":13.35,"y":92},{"s":"ZrO2","x":13.44,"y":63},{"s":"ZrO2","x":13.55,"y":80},{"s":"ZrO2","x":13.63,"y":90},{"s":"ZrO2","x":13.75,"y":85},{"s":"ZrO2","x":13.88,"y":73},{"s":"ZrO2","x":14.0,"y":80},{"s":"ZrO2","x":14.14,"y":87},{"s":"ZrO2","x":14.25,"y":100},{"s":"ZrO2","x":14.4,"y":97},{"s":"ZrO2","x":14.5,"y":85},{"s":"ZrO2","x":14.65,"y":73},{"s":"ZrO2","x":14.78,"y":85},{"s":"ZrO2","x":14.9,"y":90},{"s":"ZrO2","x":15.05,"y":85},{"s":"ZrO2","x":15.16,"y":93},{"s":"ZrO2","x":15.28,"y":110},{"s":"ZrO2","x":15.4,"y":130},{"s":"ZrO2","x":15.54,"y":153},{"s":"ZrO2","x":15.65,"y":152},{"s":"ZrO2","x":15.8,"y":157},{"s":"ZrO2","x":15.92,"y":170},{"s":"ZrO2","x":16.04,"y":183},{"s":"ZrO2","x":16.17,"y":200},{"s":"ZrO2","x":16.3,"y":217},{"s":"ZrO2","x":16.43,"y":230},{"s":"ZrO2","x":16.55,"y":243},{"s":"ZrO2","x":16.68,"y":255},{"s":"ZrO2","x":16.8,"y":270},{"s":"ZrO2","x":16.9,"y":285},{"s":"ZrO2","x":17.0,"y":303},{"s":"ZrO2","x":17.1,"y":310},{"s":"ZrO2","x":17.19,"y":327},{"s":"ZrO2","x":17.3,"y":317},{"s":"ZrO2","x":17.4,"y":330},{"s":"ZrO2","x":17.5,"y":343},{"s":"ZrO2","x":17.6,"y":350},{"s":"ZrO2","x":17.7,"y":363},{"s":"ZrO2","x":17.82,"y":350},{"s":"ZrO2","x":17.92,"y":370},{"s":"ZrO2","x":18.0,"y":390},{"s":"ZrO2","x":18.07,"y":427},{"s":"ZrO2","x":18.14,"y":380},{"s":"ZrO2","x":18.2,"y":377},{"s":"ZrO2","x":18.3,"y":395},{"s":"ZrO2","x":18.4,"y":403},{"s":"ZrO2","x":18.5,"y":390},{"s":"ZrO2","x":18.59,"y":387},{"s":"ZrO2","x":18.7,"y":420},{"s":"ZrO2","x":18.77,"y":395},{"s":"ZrO2","x":18.84,"y":377},{"s":"ZrO2","x":18.92,"y":405},{"s":"ZrO2","x":18.97,"y":427},{"s":"ZrO2","x":19.0,"y":425},
      {"s":"(Zr)SSIE-beta","x":1.0,"y":10},{"s":"(Zr)SSIE-beta","x":1.3,"y":13},{"s":"(Zr)SSIE-beta","x":1.6,"y":10},{"s":"(Zr)SSIE-beta","x":1.9,"y":14},{"s":"(Zr)SSIE-beta","x":2.2,"y":12},{"s":"(Zr)SSIE-beta","x":2.5,"y":15},{"s":"(Zr)SSIE-beta","x":2.8,"y":14},{"s":"(Zr)SSIE-beta","x":3.08,"y":15},{"s":"(Zr)SSIE-beta","x":3.35,"y":18},{"s":"(Zr)SSIE-beta","x":3.6,"y":20},{"s":"(Zr)SSIE-beta","x":3.8,"y":27},{"s":"(Zr)SSIE-beta","x":3.97,"y":37},{"s":"(Zr)SSIE-beta","x":4.15,"y":48},{"s":"(Zr)SSIE-beta","x":4.35,"y":63},{"s":"(Zr)SSIE-beta","x":4.55,"y":82},{"s":"(Zr)SSIE-beta","x":4.74,"y":97},{"s":"(Zr)SSIE-beta","x":4.9,"y":120},{"s":"(Zr)SSIE-beta","x":5.05,"y":132},{"s":"(Zr)SSIE-beta","x":5.15,"y":150},{"s":"(Zr)SSIE-beta","x":5.24,"y":157},{"s":"(Zr)SSIE-beta","x":5.37,"y":170},{"s":"(Zr)SSIE-beta","x":5.5,"y":183},{"s":"(Zr)SSIE-beta","x":5.62,"y":210},{"s":"(Zr)SSIE-beta","x":5.75,"y":233},{"s":"(Zr)SSIE-beta","x":5.88,"y":265},{"s":"(Zr)SSIE-beta","x":6.0,"y":290},{"s":"(Zr)SSIE-beta","x":6.13,"y":310},{"s":"(Zr)SSIE-beta","x":6.25,"y":305},{"s":"(Zr)SSIE-beta","x":6.39,"y":330},{"s":"(Zr)SSIE-beta","x":6.5,"y":335},{"s":"(Zr)SSIE-beta","x":6.64,"y":347},{"s":"(Zr)SSIE-beta","x":6.77,"y":360},{"s":"(Zr)SSIE-beta","x":6.9,"y":377},{"s":"(Zr)SSIE-beta","x":7.05,"y":370},{"s":"(Zr)SSIE-beta","x":7.15,"y":385},{"s":"(Zr)SSIE-beta","x":7.28,"y":387},{"s":"(Zr)SSIE-beta","x":7.4,"y":400},{"s":"(Zr)SSIE-beta","x":7.53,"y":433},{"s":"(Zr)SSIE-beta","x":7.65,"y":405},{"s":"(Zr)SSIE-beta","x":7.79,"y":433},{"s":"(Zr)SSIE-beta","x":7.9,"y":387},{"s":"(Zr)SSIE-beta","x":8.05,"y":402},{"s":"(Zr)SSIE-beta","x":8.17,"y":397},{"s":"(Zr)SSIE-beta","x":8.3,"y":380},{"s":"(Zr)SSIE-beta","x":8.42,"y":363},{"s":"(Zr)SSIE-beta","x":8.55,"y":370},{"s":"(Zr)SSIE-beta","x":8.67,"y":357},{"s":"(Zr)SSIE-beta","x":8.8,"y":350},{"s":"(Zr)SSIE-beta","x":8.93,"y":343},{"s":"(Zr)SSIE-beta","x":9.06,"y":335},{"s":"(Zr)SSIE-beta","x":9.18,"y":330},{"s":"(Zr)SSIE-beta","x":9.31,"y":322},{"s":"(Zr)SSIE-beta","x":9.44,"y":317},{"s":"(Zr)SSIE-beta","x":9.56,"y":305},{"s":"(Zr)SSIE-beta","x":9.69,"y":297},{"s":"(Zr)SSIE-beta","x":9.82,"y":290},{"s":"(Zr)SSIE-beta","x":9.95,"y":277},{"s":"(Zr)SSIE-beta","x":10.07,"y":272},{"s":"(Zr)SSIE-beta","x":10.2,"y":263},{"s":"(Zr)SSIE-beta","x":10.33,"y":255},{"s":"(Zr)SSIE-beta","x":10.45,"y":237},{"s":"(Zr)SSIE-beta","x":10.52,"y":260},{"s":"(Zr)SSIE-beta","x":10.58,"y":253},{"s":"(Zr)SSIE-beta","x":10.7,"y":265},{"s":"(Zr)SSIE-beta","x":10.83,"y":270},{"s":"(Zr)SSIE-beta","x":10.96,"y":280},{"s":"(Zr)SSIE-beta","x":11.09,"y":290},{"s":"(Zr)SSIE-beta","x":11.2,"y":275},{"s":"(Zr)SSIE-beta","x":11.34,"y":277},{"s":"(Zr)SSIE-beta","x":11.47,"y":290},{"s":"(Zr)SSIE-beta","x":11.6,"y":290},{"s":"(Zr)SSIE-beta","x":11.72,"y":285},{"s":"(Zr)SSIE-beta","x":11.85,"y":297},{"s":"(Zr)SSIE-beta","x":11.98,"y":305},{"s":"(Zr)SSIE-beta","x":12.1,"y":310},{"s":"(Zr)SSIE-beta","x":12.23,"y":298},{"s":"(Zr)SSIE-beta","x":12.36,"y":297},{"s":"(Zr)SSIE-beta","x":12.5,"y":305},{"s":"(Zr)SSIE-beta","x":12.6,"y":297},{"s":"(Zr)SSIE-beta","x":12.74,"y":300},{"s":"(Zr)SSIE-beta","x":12.87,"y":310},{"s":"(Zr)SSIE-beta","x":13.0,"y":320},{"s":"(Zr)SSIE-beta","x":13.12,"y":327},{"s":"(Zr)SSIE-beta","x":13.25,"y":312},{"s":"(Zr)SSIE-beta","x":13.37,"y":317},{"s":"(Zr)SSIE-beta","x":13.5,"y":325},{"s":"(Zr)SSIE-beta","x":13.63,"y":330},{"s":"(Zr)SSIE-beta","x":13.76,"y":315},{"s":"(Zr)SSIE-beta","x":13.88,"y":320},{"s":"(Zr)SSIE-beta","x":14.0,"y":335},{"s":"(Zr)SSIE-beta","x":14.14,"y":343},{"s":"(Zr)SSIE-beta","x":14.26,"y":330},{"s":"(Zr)SSIE-beta","x":14.4,"y":337},{"s":"(Zr)SSIE-beta","x":14.52,"y":345},{"s":"(Zr)SSIE-beta","x":14.65,"y":350},{"s":"(Zr)SSIE-beta","x":14.77,"y":337},{"s":"(Zr)SSIE-beta","x":14.9,"y":320},{"s":"(Zr)SSIE-beta","x":15.03,"y":297},{"s":"(Zr)SSIE-beta","x":15.16,"y":290},{"s":"(Zr)SSIE-beta","x":15.28,"y":277},{"s":"(Zr)SSIE-beta","x":15.4,"y":272},{"s":"(Zr)SSIE-beta","x":15.54,"y":263},{"s":"(Zr)SSIE-beta","x":15.66,"y":250},{"s":"(Zr)SSIE-beta","x":15.8,"y":237},{"s":"(Zr)SSIE-beta","x":15.9,"y":217},{"s":"(Zr)SSIE-beta","x":16.04,"y":190},{"s":"(Zr)SSIE-beta","x":16.17,"y":167},{"s":"(Zr)SSIE-beta","x":16.3,"y":155},{"s":"(Zr)SSIE-beta","x":16.43,"y":143},{"s":"(Zr)SSIE-beta","x":16.55,"y":135},{"s":"(Zr)SSIE-beta","x":16.68,"y":130},{"s":"(Zr)SSIE-beta","x":16.8,"y":135},{"s":"(Zr)SSIE-beta","x":16.93,"y":123},{"s":"(Zr)SSIE-beta","x":17.06,"y":118},{"s":"(Zr)SSIE-beta","x":17.19,"y":110},{"s":"(Zr)SSIE-beta","x":17.3,"y":115},{"s":"(Zr)SSIE-beta","x":17.44,"y":103},{"s":"(Zr)SSIE-beta","x":17.57,"y":110},{"s":"(Zr)SSIE-beta","x":17.7,"y":110},{"s":"(Zr)SSIE-beta","x":17.82,"y":105},{"s":"(Zr)SSIE-beta","x":17.95,"y":113},{"s":"(Zr)SSIE-beta","x":18.05,"y":130},{"s":"(Zr)SSIE-beta","x":18.14,"y":147},{"s":"(Zr)SSIE-beta","x":18.24,"y":135},{"s":"(Zr)SSIE-beta","x":18.33,"y":140},{"s":"(Zr)SSIE-beta","x":18.46,"y":110},{"s":"(Zr)SSIE-beta","x":18.59,"y":120},{"s":"(Zr)SSIE-beta","x":18.7,"y":123},{"s":"(Zr)SSIE-beta","x":18.84,"y":135},{"s":"(Zr)SSIE-beta","x":18.97,"y":130},{"s":"(Zr)SSIE-beta","x":19.0,"y":135},
      {"s":"(ZrAl)SSIE-beta","x":1.0,"y":8},{"s":"(ZrAl)SSIE-beta","x":1.4,"y":10},{"s":"(ZrAl)SSIE-beta","x":1.8,"y":7},{"s":"(ZrAl)SSIE-beta","x":2.2,"y":10},{"s":"(ZrAl)SSIE-beta","x":2.6,"y":9},{"s":"(ZrAl)SSIE-beta","x":3.0,"y":10},{"s":"(ZrAl)SSIE-beta","x":3.4,"y":12},{"s":"(ZrAl)SSIE-beta","x":3.8,"y":14},{"s":"(ZrAl)SSIE-beta","x":4.1,"y":16},{"s":"(ZrAl)SSIE-beta","x":4.35,"y":20},{"s":"(ZrAl)SSIE-beta","x":4.55,"y":28},{"s":"(ZrAl)SSIE-beta","x":4.74,"y":37},{"s":"(ZrAl)SSIE-beta","x":4.9,"y":48},{"s":"(ZrAl)SSIE-beta","x":5.0,"y":55},{"s":"(ZrAl)SSIE-beta","x":5.12,"y":63},{"s":"(ZrAl)SSIE-beta","x":5.25,"y":82},{"s":"(ZrAl)SSIE-beta","x":5.37,"y":103},{"s":"(ZrAl)SSIE-beta","x":5.5,"y":118},{"s":"(ZrAl)SSIE-beta","x":5.62,"y":133},{"s":"(ZrAl)SSIE-beta","x":5.75,"y":138},{"s":"(ZrAl)SSIE-beta","x":5.88,"y":150},{"s":"(ZrAl)SSIE-beta","x":5.95,"y":170},{"s":"(ZrAl)SSIE-beta","x":6.0,"y":183},{"s":"(ZrAl)SSIE-beta","x":6.07,"y":200},{"s":"(ZrAl)SSIE-beta","x":6.13,"y":217},{"s":"(ZrAl)SSIE-beta","x":6.25,"y":230},{"s":"(ZrAl)SSIE-beta","x":6.39,"y":250},{"s":"(ZrAl)SSIE-beta","x":6.5,"y":260},{"s":"(ZrAl)SSIE-beta","x":6.64,"y":270},{"s":"(ZrAl)SSIE-beta","x":6.77,"y":253},{"s":"(ZrAl)SSIE-beta","x":6.9,"y":297},{"s":"(ZrAl)SSIE-beta","x":7.02,"y":315},{"s":"(ZrAl)SSIE-beta","x":7.15,"y":330},{"s":"(ZrAl)SSIE-beta","x":7.28,"y":345},{"s":"(ZrAl)SSIE-beta","x":7.4,"y":357},{"s":"(ZrAl)SSIE-beta","x":7.53,"y":370},{"s":"(ZrAl)SSIE-beta","x":7.66,"y":380},{"s":"(ZrAl)SSIE-beta","x":7.79,"y":392},{"s":"(ZrAl)SSIE-beta","x":7.9,"y":403},{"s":"(ZrAl)SSIE-beta","x":8.04,"y":412},{"s":"(ZrAl)SSIE-beta","x":8.17,"y":420},{"s":"(ZrAl)SSIE-beta","x":8.3,"y":412},{"s":"(ZrAl)SSIE-beta","x":8.42,"y":403},{"s":"(ZrAl)SSIE-beta","x":8.55,"y":398},{"s":"(ZrAl)SSIE-beta","x":8.67,"y":390},{"s":"(ZrAl)SSIE-beta","x":8.8,"y":380},{"s":"(ZrAl)SSIE-beta","x":8.93,"y":370},{"s":"(ZrAl)SSIE-beta","x":9.06,"y":365},{"s":"(ZrAl)SSIE-beta","x":9.18,"y":357},{"s":"(ZrAl)SSIE-beta","x":9.31,"y":350},{"s":"(ZrAl)SSIE-beta","x":9.44,"y":343},{"s":"(ZrAl)SSIE-beta","x":9.56,"y":335},{"s":"(ZrAl)SSIE-beta","x":9.69,"y":323},{"s":"(ZrAl)SSIE-beta","x":9.82,"y":320},{"s":"(ZrAl)SSIE-beta","x":9.95,"y":317},{"s":"(ZrAl)SSIE-beta","x":10.07,"y":312},{"s":"(ZrAl)SSIE-beta","x":10.2,"y":310},{"s":"(ZrAl)SSIE-beta","x":10.33,"y":305},{"s":"(ZrAl)SSIE-beta","x":10.45,"y":297},{"s":"(ZrAl)SSIE-beta","x":10.58,"y":305},{"s":"(ZrAl)SSIE-beta","x":10.7,"y":313},{"s":"(ZrAl)SSIE-beta","x":10.83,"y":322},{"s":"(ZrAl)SSIE-beta","x":10.96,"y":330},{"s":"(ZrAl)SSIE-beta","x":11.09,"y":338},{"s":"(ZrAl)SSIE-beta","x":11.2,"y":343},{"s":"(ZrAl)SSIE-beta","x":11.34,"y":348},{"s":"(ZrAl)SSIE-beta","x":11.47,"y":350},{"s":"(ZrAl)SSIE-beta","x":11.6,"y":360},{"s":"(ZrAl)SSIE-beta","x":11.72,"y":370},{"s":"(ZrAl)SSIE-beta","x":11.85,"y":375},{"s":"(ZrAl)SSIE-beta","x":11.98,"y":387},{"s":"(ZrAl)SSIE-beta","x":12.1,"y":378},{"s":"(ZrAl)SSIE-beta","x":12.23,"y":370},{"s":"(ZrAl)SSIE-beta","x":12.36,"y":380},{"s":"(ZrAl)SSIE-beta","x":12.5,"y":377},{"s":"(ZrAl)SSIE-beta","x":12.6,"y":382},{"s":"(ZrAl)SSIE-beta","x":12.74,"y":373},{"s":"(ZrAl)SSIE-beta","x":12.87,"y":380},{"s":"(ZrAl)SSIE-beta","x":13.0,"y":377},{"s":"(ZrAl)SSIE-beta","x":13.12,"y":385},{"s":"(ZrAl)SSIE-beta","x":13.25,"y":390},{"s":"(ZrAl)SSIE-beta","x":13.37,"y":382},{"s":"(ZrAl)SSIE-beta","x":13.5,"y":387},{"s":"(ZrAl)SSIE-beta","x":13.63,"y":394},{"s":"(ZrAl)SSIE-beta","x":13.76,"y":397},{"s":"(ZrAl)SSIE-beta","x":13.88,"y":402},{"s":"(ZrAl)SSIE-beta","x":14.0,"y":400},{"s":"(ZrAl)SSIE-beta","x":14.14,"y":395},{"s":"(ZrAl)SSIE-beta","x":14.26,"y":390},{"s":"(ZrAl)SSIE-beta","x":14.35,"y":415},{"s":"(ZrAl)SSIE-beta","x":14.45,"y":433},{"s":"(ZrAl)SSIE-beta","x":14.55,"y":420},{"s":"(ZrAl)SSIE-beta","x":14.65,"y":413},{"s":"(ZrAl)SSIE-beta","x":14.77,"y":408},{"s":"(ZrAl)SSIE-beta","x":14.9,"y":403},{"s":"(ZrAl)SSIE-beta","x":15.03,"y":412},{"s":"(ZrAl)SSIE-beta","x":15.16,"y":410},{"s":"(ZrAl)SSIE-beta","x":15.28,"y":402},{"s":"(ZrAl)SSIE-beta","x":15.4,"y":387},{"s":"(ZrAl)SSIE-beta","x":15.54,"y":405},{"s":"(ZrAl)SSIE-beta","x":15.66,"y":423},{"s":"(ZrAl)SSIE-beta","x":15.73,"y":390},{"s":"(ZrAl)SSIE-beta","x":15.8,"y":357},{"s":"(ZrAl)SSIE-beta","x":15.92,"y":340},{"s":"(ZrAl)SSIE-beta","x":16.04,"y":323},{"s":"(ZrAl)SSIE-beta","x":16.17,"y":312},{"s":"(ZrAl)SSIE-beta","x":16.3,"y":300},{"s":"(ZrAl)SSIE-beta","x":16.43,"y":280},{"s":"(ZrAl)SSIE-beta","x":16.55,"y":257},{"s":"(ZrAl)SSIE-beta","x":16.68,"y":233},{"s":"(ZrAl)SSIE-beta","x":16.8,"y":237},{"s":"(ZrAl)SSIE-beta","x":16.93,"y":210},{"s":"(ZrAl)SSIE-beta","x":17.06,"y":183},{"s":"(ZrAl)SSIE-beta","x":17.19,"y":175},{"s":"(ZrAl)SSIE-beta","x":17.3,"y":163},{"s":"(ZrAl)SSIE-beta","x":17.44,"y":140},{"s":"(ZrAl)SSIE-beta","x":17.57,"y":130},{"s":"(ZrAl)SSIE-beta","x":17.7,"y":128},{"s":"(ZrAl)SSIE-beta","x":17.82,"y":123},{"s":"(ZrAl)SSIE-beta","x":17.95,"y":118},{"s":"(ZrAl)SSIE-beta","x":18.07,"y":113},{"s":"(ZrAl)SSIE-beta","x":18.2,"y":115},{"s":"(ZrAl)SSIE-beta","x":18.33,"y":110},{"s":"(ZrAl)SSIE-beta","x":18.46,"y":118},{"s":"(ZrAl)SSIE-beta","x":18.59,"y":117},{"s":"(ZrAl)SSIE-beta","x":18.7,"y":112},{"s":"(ZrAl)SSIE-beta","x":18.84,"y":110},{"s":"(ZrAl)SSIE-beta","x":18.97,"y":117},{"s":"(ZrAl)SSIE-beta","x":19.0,"y":120},
      {"s":"Zr-TUD-1","x":1.0,"y":10},{"s":"Zr-TUD-1","x":1.4,"y":12},{"s":"Zr-TUD-1","x":1.8,"y":11},{"s":"Zr-TUD-1","x":2.2,"y":13},{"s":"Zr-TUD-1","x":2.6,"y":12},{"s":"Zr-TUD-1","x":3.0,"y":14},{"s":"Zr-TUD-1","x":3.3,"y":15},{"s":"Zr-TUD-1","x":3.6,"y":17},{"s":"Zr-TUD-1","x":3.8,"y":25},{"s":"Zr-TUD-1","x":3.97,"y":33},{"s":"Zr-TUD-1","x":4.15,"y":45},{"s":"Zr-TUD-1","x":4.35,"y":60},{"s":"Zr-TUD-1","x":4.55,"y":78},{"s":"Zr-TUD-1","x":4.74,"y":93},{"s":"Zr-TUD-1","x":4.9,"y":105},{"s":"Zr-TUD-1","x":5.12,"y":123},{"s":"Zr-TUD-1","x":5.25,"y":138},{"s":"Zr-TUD-1","x":5.37,"y":150},{"s":"Zr-TUD-1","x":5.5,"y":175},{"s":"Zr-TUD-1","x":5.62,"y":200},{"s":"Zr-TUD-1","x":5.75,"y":222},{"s":"Zr-TUD-1","x":5.88,"y":243},{"s":"Zr-TUD-1","x":6.0,"y":272},{"s":"Zr-TUD-1","x":6.13,"y":297},{"s":"Zr-TUD-1","x":6.25,"y":320},{"s":"Zr-TUD-1","x":6.39,"y":343},{"s":"Zr-TUD-1","x":6.5,"y":358},{"s":"Zr-TUD-1","x":6.64,"y":373},{"s":"Zr-TUD-1","x":6.77,"y":380},{"s":"Zr-TUD-1","x":6.9,"y":387},{"s":"Zr-TUD-1","x":7.02,"y":380},{"s":"Zr-TUD-1","x":7.15,"y":397},{"s":"Zr-TUD-1","x":7.28,"y":392},{"s":"Zr-TUD-1","x":7.4,"y":403},{"s":"Zr-TUD-1","x":7.53,"y":408},{"s":"Zr-TUD-1","x":7.66,"y":413},{"s":"Zr-TUD-1","x":7.79,"y":405},{"s":"Zr-TUD-1","x":7.9,"y":420},{"s":"Zr-TUD-1","x":8.04,"y":412},{"s":"Zr-TUD-1","x":8.17,"y":410},{"s":"Zr-TUD-1","x":8.3,"y":402},{"s":"Zr-TUD-1","x":8.42,"y":397},{"s":"Zr-TUD-1","x":8.55,"y":390},{"s":"Zr-TUD-1","x":8.67,"y":383},{"s":"Zr-TUD-1","x":8.8,"y":372},{"s":"Zr-TUD-1","x":8.93,"y":363},{"s":"Zr-TUD-1","x":9.06,"y":345},{"s":"Zr-TUD-1","x":9.18,"y":330},{"s":"Zr-TUD-1","x":9.31,"y":320},{"s":"Zr-TUD-1","x":9.44,"y":310},{"s":"Zr-TUD-1","x":9.56,"y":290},{"s":"Zr-TUD-1","x":9.69,"y":270},{"s":"Zr-TUD-1","x":9.82,"y":268},{"s":"Zr-TUD-1","x":9.95,"y":260},{"s":"Zr-TUD-1","x":10.07,"y":252},{"s":"Zr-TUD-1","x":10.14,"y":247},{"s":"Zr-TUD-1","x":10.25,"y":262},{"s":"Zr-TUD-1","x":10.33,"y":270},{"s":"Zr-TUD-1","x":10.45,"y":275},{"s":"Zr-TUD-1","x":10.58,"y":283},{"s":"Zr-TUD-1","x":10.7,"y":292},{"s":"Zr-TUD-1","x":10.83,"y":303},{"s":"Zr-TUD-1","x":10.96,"y":312},{"s":"Zr-TUD-1","x":11.09,"y":323},{"s":"Zr-TUD-1","x":11.2,"y":315},{"s":"Zr-TUD-1","x":11.34,"y":317},{"s":"Zr-TUD-1","x":11.47,"y":325},{"s":"Zr-TUD-1","x":11.6,"y":330},{"s":"Zr-TUD-1","x":11.72,"y":332},{"s":"Zr-TUD-1","x":11.85,"y":337},{"s":"Zr-TUD-1","x":11.98,"y":340},{"s":"Zr-TUD-1","x":12.1,"y":343},{"s":"Zr-TUD-1","x":12.23,"y":350},{"s":"Zr-TUD-1","x":12.36,"y":357},{"s":"Zr-TUD-1","x":12.5,"y":350},{"s":"Zr-TUD-1","x":12.6,"y":347},{"s":"Zr-TUD-1","x":12.74,"y":358},{"s":"Zr-TUD-1","x":12.87,"y":363},{"s":"Zr-TUD-1","x":13.0,"y":360},{"s":"Zr-TUD-1","x":13.12,"y":357},{"s":"Zr-TUD-1","x":13.25,"y":365},{"s":"Zr-TUD-1","x":13.37,"y":373},{"s":"Zr-TUD-1","x":13.5,"y":380},{"s":"Zr-TUD-1","x":13.63,"y":387},{"s":"Zr-TUD-1","x":13.76,"y":392},{"s":"Zr-TUD-1","x":13.88,"y":397},{"s":"Zr-TUD-1","x":14.0,"y":402},{"s":"Zr-TUD-1","x":14.14,"y":390},{"s":"Zr-TUD-1","x":14.26,"y":380},{"s":"Zr-TUD-1","x":14.4,"y":370},{"s":"Zr-TUD-1","x":14.52,"y":368},{"s":"Zr-TUD-1","x":14.65,"y":363},{"s":"Zr-TUD-1","x":14.77,"y":358},{"s":"Zr-TUD-1","x":14.9,"y":350},{"s":"Zr-TUD-1","x":15.03,"y":340},{"s":"Zr-TUD-1","x":15.16,"y":330},{"s":"Zr-TUD-1","x":15.28,"y":318},{"s":"Zr-TUD-1","x":15.4,"y":303},{"s":"Zr-TUD-1","x":15.54,"y":285},{"s":"Zr-TUD-1","x":15.66,"y":263},{"s":"Zr-TUD-1","x":15.8,"y":237},{"s":"Zr-TUD-1","x":15.92,"y":220},{"s":"Zr-TUD-1","x":16.04,"y":200},{"s":"Zr-TUD-1","x":16.17,"y":182},{"s":"Zr-TUD-1","x":16.3,"y":167},{"s":"Zr-TUD-1","x":16.43,"y":152},{"s":"Zr-TUD-1","x":16.55,"y":140},{"s":"Zr-TUD-1","x":16.68,"y":132},{"s":"Zr-TUD-1","x":16.8,"y":128},{"s":"Zr-TUD-1","x":16.93,"y":123},{"s":"Zr-TUD-1","x":17.06,"y":120},{"s":"Zr-TUD-1","x":17.19,"y":117},{"s":"Zr-TUD-1","x":17.3,"y":113},{"s":"Zr-TUD-1","x":17.44,"y":115},{"s":"Zr-TUD-1","x":17.57,"y":112},{"s":"Zr-TUD-1","x":17.7,"y":110},{"s":"Zr-TUD-1","x":17.82,"y":108},{"s":"Zr-TUD-1","x":17.95,"y":110},{"s":"Zr-TUD-1","x":18.07,"y":107},{"s":"Zr-TUD-1","x":18.2,"y":112},{"s":"Zr-TUD-1","x":18.33,"y":110},{"s":"Zr-TUD-1","x":18.46,"y":110},{"s":"Zr-TUD-1","x":18.59,"y":114},{"s":"Zr-TUD-1","x":18.7,"y":112},{"s":"Zr-TUD-1","x":18.84,"y":116},{"s":"Zr-TUD-1","x":18.97,"y":117},{"s":"Zr-TUD-1","x":19.0,"y":120},
      {"s":"ZrAl-TUD-1(0.3)","x":1.0,"y":9},{"s":"ZrAl-TUD-1(0.3)","x":1.4,"y":10},{"s":"ZrAl-TUD-1(0.3)","x":1.8,"y":9},{"s":"ZrAl-TUD-1(0.3)","x":2.2,"y":11},{"s":"ZrAl-TUD-1(0.3)","x":2.6,"y":12},{"s":"ZrAl-TUD-1(0.3)","x":3.0,"y":15},{"s":"ZrAl-TUD-1(0.3)","x":3.34,"y":20},{"s":"ZrAl-TUD-1(0.3)","x":3.6,"y":25},{"s":"ZrAl-TUD-1(0.3)","x":3.85,"y":30},{"s":"ZrAl-TUD-1(0.3)","x":4.1,"y":38},{"s":"ZrAl-TUD-1(0.3)","x":4.35,"y":50},{"s":"ZrAl-TUD-1(0.3)","x":4.6,"y":62},{"s":"ZrAl-TUD-1(0.3)","x":4.86,"y":77},{"s":"ZrAl-TUD-1(0.3)","x":5.05,"y":90},{"s":"ZrAl-TUD-1(0.3)","x":5.24,"y":107},{"s":"ZrAl-TUD-1(0.3)","x":5.4,"y":125},{"s":"ZrAl-TUD-1(0.3)","x":5.62,"y":150},{"s":"ZrAl-TUD-1(0.3)","x":5.75,"y":175},{"s":"ZrAl-TUD-1(0.3)","x":5.88,"y":200},{"s":"ZrAl-TUD-1(0.3)","x":6.0,"y":225},{"s":"ZrAl-TUD-1(0.3)","x":6.13,"y":250},{"s":"ZrAl-TUD-1(0.3)","x":6.25,"y":255},{"s":"ZrAl-TUD-1(0.3)","x":6.39,"y":263},{"s":"ZrAl-TUD-1(0.3)","x":6.5,"y":280},{"s":"ZrAl-TUD-1(0.3)","x":6.64,"y":297},{"s":"ZrAl-TUD-1(0.3)","x":6.77,"y":320},{"s":"ZrAl-TUD-1(0.3)","x":6.9,"y":343},{"s":"ZrAl-TUD-1(0.3)","x":7.02,"y":358},{"s":"ZrAl-TUD-1(0.3)","x":7.15,"y":370},{"s":"ZrAl-TUD-1(0.3)","x":7.28,"y":385},{"s":"ZrAl-TUD-1(0.3)","x":7.4,"y":397},{"s":"ZrAl-TUD-1(0.3)","x":7.53,"y":405},{"s":"ZrAl-TUD-1(0.3)","x":7.66,"y":413},{"s":"ZrAl-TUD-1(0.3)","x":7.79,"y":418},{"s":"ZrAl-TUD-1(0.3)","x":7.9,"y":423},{"s":"ZrAl-TUD-1(0.3)","x":8.04,"y":418},{"s":"ZrAl-TUD-1(0.3)","x":8.17,"y":420},{"s":"ZrAl-TUD-1(0.3)","x":8.3,"y":427},{"s":"ZrAl-TUD-1(0.3)","x":8.42,"y":433},{"s":"ZrAl-TUD-1(0.3)","x":8.55,"y":430},{"s":"ZrAl-TUD-1(0.3)","x":8.67,"y":427},{"s":"ZrAl-TUD-1(0.3)","x":8.8,"y":410},{"s":"ZrAl-TUD-1(0.3)","x":8.93,"y":390},{"s":"ZrAl-TUD-1(0.3)","x":9.06,"y":382},{"s":"ZrAl-TUD-1(0.3)","x":9.18,"y":377},{"s":"ZrAl-TUD-1(0.3)","x":9.31,"y":362},{"s":"ZrAl-TUD-1(0.3)","x":9.44,"y":350},{"s":"ZrAl-TUD-1(0.3)","x":9.56,"y":358},{"s":"ZrAl-TUD-1(0.3)","x":9.69,"y":353},{"s":"ZrAl-TUD-1(0.3)","x":9.82,"y":345},{"s":"ZrAl-TUD-1(0.3)","x":9.95,"y":343},{"s":"ZrAl-TUD-1(0.3)","x":10.07,"y":332},{"s":"ZrAl-TUD-1(0.3)","x":10.2,"y":323},{"s":"ZrAl-TUD-1(0.3)","x":10.33,"y":320},{"s":"ZrAl-TUD-1(0.3)","x":10.45,"y":317},{"s":"ZrAl-TUD-1(0.3)","x":10.58,"y":308},{"s":"ZrAl-TUD-1(0.3)","x":10.7,"y":300},{"s":"ZrAl-TUD-1(0.3)","x":10.83,"y":312},{"s":"ZrAl-TUD-1(0.3)","x":10.96,"y":323},{"s":"ZrAl-TUD-1(0.3)","x":11.09,"y":335},{"s":"ZrAl-TUD-1(0.3)","x":11.2,"y":343},{"s":"ZrAl-TUD-1(0.3)","x":11.34,"y":355},{"s":"ZrAl-TUD-1(0.3)","x":11.47,"y":363},{"s":"ZrAl-TUD-1(0.3)","x":11.6,"y":375},{"s":"ZrAl-TUD-1(0.3)","x":11.72,"y":383},{"s":"ZrAl-TUD-1(0.3)","x":11.85,"y":378},{"s":"ZrAl-TUD-1(0.3)","x":11.98,"y":373},{"s":"ZrAl-TUD-1(0.3)","x":12.1,"y":385},{"s":"ZrAl-TUD-1(0.3)","x":12.23,"y":390},{"s":"ZrAl-TUD-1(0.3)","x":12.36,"y":383},{"s":"ZrAl-TUD-1(0.3)","x":12.5,"y":380},{"s":"ZrAl-TUD-1(0.3)","x":12.6,"y":388},{"s":"ZrAl-TUD-1(0.3)","x":12.74,"y":393},{"s":"ZrAl-TUD-1(0.3)","x":12.87,"y":387},{"s":"ZrAl-TUD-1(0.3)","x":13.0,"y":390},{"s":"ZrAl-TUD-1(0.3)","x":13.12,"y":394},{"s":"ZrAl-TUD-1(0.3)","x":13.25,"y":397},{"s":"ZrAl-TUD-1(0.3)","x":13.37,"y":400},{"s":"ZrAl-TUD-1(0.3)","x":13.5,"y":403},{"s":"ZrAl-TUD-1(0.3)","x":13.63,"y":413},{"s":"ZrAl-TUD-1(0.3)","x":13.76,"y":420},{"s":"ZrAl-TUD-1(0.3)","x":13.88,"y":423},{"s":"ZrAl-TUD-1(0.3)","x":14.0,"y":433},{"s":"ZrAl-TUD-1(0.3)","x":14.14,"y":420},{"s":"ZrAl-TUD-1(0.3)","x":14.26,"y":410},{"s":"ZrAl-TUD-1(0.3)","x":14.4,"y":400},{"s":"ZrAl-TUD-1(0.3)","x":14.5,"y":390},{"s":"ZrAl-TUD-1(0.3)","x":14.65,"y":387},{"s":"ZrAl-TUD-1(0.3)","x":14.77,"y":383},{"s":"ZrAl-TUD-1(0.3)","x":14.9,"y":385},{"s":"ZrAl-TUD-1(0.3)","x":15.03,"y":383},{"s":"ZrAl-TUD-1(0.3)","x":15.16,"y":370},{"s":"ZrAl-TUD-1(0.3)","x":15.28,"y":350},{"s":"ZrAl-TUD-1(0.3)","x":15.4,"y":335},{"s":"ZrAl-TUD-1(0.3)","x":15.54,"y":323},{"s":"ZrAl-TUD-1(0.3)","x":15.66,"y":308},{"s":"ZrAl-TUD-1(0.3)","x":15.8,"y":290},{"s":"ZrAl-TUD-1(0.3)","x":15.9,"y":270},{"s":"ZrAl-TUD-1(0.3)","x":16.04,"y":243},{"s":"ZrAl-TUD-1(0.3)","x":16.17,"y":230},{"s":"ZrAl-TUD-1(0.3)","x":16.3,"y":215},{"s":"ZrAl-TUD-1(0.3)","x":16.43,"y":200},{"s":"ZrAl-TUD-1(0.3)","x":16.55,"y":187},{"s":"ZrAl-TUD-1(0.3)","x":16.68,"y":173},{"s":"ZrAl-TUD-1(0.3)","x":16.8,"y":162},{"s":"ZrAl-TUD-1(0.3)","x":16.93,"y":150},{"s":"ZrAl-TUD-1(0.3)","x":17.06,"y":140},{"s":"ZrAl-TUD-1(0.3)","x":17.19,"y":130},{"s":"ZrAl-TUD-1(0.3)","x":17.3,"y":127},{"s":"ZrAl-TUD-1(0.3)","x":17.44,"y":123},{"s":"ZrAl-TUD-1(0.3)","x":17.57,"y":118},{"s":"ZrAl-TUD-1(0.3)","x":17.7,"y":113},{"s":"ZrAl-TUD-1(0.3)","x":17.82,"y":120},{"s":"ZrAl-TUD-1(0.3)","x":17.95,"y":117},{"s":"ZrAl-TUD-1(0.3)","x":18.07,"y":110},{"s":"ZrAl-TUD-1(0.3)","x":18.2,"y":107},{"s":"ZrAl-TUD-1(0.3)","x":18.33,"y":115},{"s":"ZrAl-TUD-1(0.3)","x":18.46,"y":113},{"s":"ZrAl-TUD-1(0.3)","x":18.59,"y":105},{"s":"ZrAl-TUD-1(0.3)","x":18.7,"y":107},{"s":"ZrAl-TUD-1(0.3)","x":18.84,"y":112},{"s":"ZrAl-TUD-1(0.3)","x":18.97,"y":113},{"s":"ZrAl-TUD-1(0.3)","x":19.0,"y":115},
      {"s":"ZrAl-TUD-1(0.7)","x":1.0,"y":6},{"s":"ZrAl-TUD-1(0.7)","x":1.4,"y":8},{"s":"ZrAl-TUD-1(0.7)","x":1.8,"y":7},{"s":"ZrAl-TUD-1(0.7)","x":2.2,"y":9},{"s":"ZrAl-TUD-1(0.7)","x":2.6,"y":8},{"s":"ZrAl-TUD-1(0.7)","x":3.0,"y":10},{"s":"ZrAl-TUD-1(0.7)","x":3.4,"y":10},{"s":"ZrAl-TUD-1(0.7)","x":3.7,"y":8},{"s":"ZrAl-TUD-1(0.7)","x":3.97,"y":7},{"s":"ZrAl-TUD-1(0.7)","x":4.15,"y":12},{"s":"ZrAl-TUD-1(0.7)","x":4.35,"y":17},{"s":"ZrAl-TUD-1(0.7)","x":4.55,"y":25},{"s":"ZrAl-TUD-1(0.7)","x":4.74,"y":37},{"s":"ZrAl-TUD-1(0.7)","x":4.9,"y":52},{"s":"ZrAl-TUD-1(0.7)","x":5.0,"y":65},{"s":"ZrAl-TUD-1(0.7)","x":5.12,"y":77},{"s":"ZrAl-TUD-1(0.7)","x":5.25,"y":95},{"s":"ZrAl-TUD-1(0.7)","x":5.37,"y":117},{"s":"ZrAl-TUD-1(0.7)","x":5.5,"y":150},{"s":"ZrAl-TUD-1(0.7)","x":5.56,"y":190},{"s":"ZrAl-TUD-1(0.7)","x":5.62,"y":217},{"s":"ZrAl-TUD-1(0.7)","x":5.7,"y":205},{"s":"ZrAl-TUD-1(0.7)","x":5.75,"y":200},{"s":"ZrAl-TUD-1(0.7)","x":5.82,"y":225},{"s":"ZrAl-TUD-1(0.7)","x":5.88,"y":240},{"s":"ZrAl-TUD-1(0.7)","x":5.95,"y":275},{"s":"ZrAl-TUD-1(0.7)","x":6.0,"y":317},{"s":"ZrAl-TUD-1(0.7)","x":6.07,"y":305},{"s":"ZrAl-TUD-1(0.7)","x":6.13,"y":297},{"s":"ZrAl-TUD-1(0.7)","x":6.25,"y":315},{"s":"ZrAl-TUD-1(0.7)","x":6.39,"y":330},{"s":"ZrAl-TUD-1(0.7)","x":6.5,"y":345},{"s":"ZrAl-TUD-1(0.7)","x":6.64,"y":363},{"s":"ZrAl-TUD-1(0.7)","x":6.77,"y":372},{"s":"ZrAl-TUD-1(0.7)","x":6.9,"y":380},{"s":"ZrAl-TUD-1(0.7)","x":7.02,"y":388},{"s":"ZrAl-TUD-1(0.7)","x":7.15,"y":397},{"s":"ZrAl-TUD-1(0.7)","x":7.25,"y":415},{"s":"ZrAl-TUD-1(0.7)","x":7.34,"y":433},{"s":"ZrAl-TUD-1(0.7)","x":7.43,"y":415},{"s":"ZrAl-TUD-1(0.7)","x":7.53,"y":403},{"s":"ZrAl-TUD-1(0.7)","x":7.66,"y":412},{"s":"ZrAl-TUD-1(0.7)","x":7.79,"y":410},{"s":"ZrAl-TUD-1(0.7)","x":7.9,"y":415},{"s":"ZrAl-TUD-1(0.7)","x":8.04,"y":420},{"s":"ZrAl-TUD-1(0.7)","x":8.17,"y":408},{"s":"ZrAl-TUD-1(0.7)","x":8.3,"y":397},{"s":"ZrAl-TUD-1(0.7)","x":8.42,"y":392},{"s":"ZrAl-TUD-1(0.7)","x":8.55,"y":387},{"s":"ZrAl-TUD-1(0.7)","x":8.67,"y":378},{"s":"ZrAl-TUD-1(0.7)","x":8.8,"y":370},{"s":"ZrAl-TUD-1(0.7)","x":8.93,"y":360},{"s":"ZrAl-TUD-1(0.7)","x":9.06,"y":350},{"s":"ZrAl-TUD-1(0.7)","x":9.18,"y":337},{"s":"ZrAl-TUD-1(0.7)","x":9.31,"y":323},{"s":"ZrAl-TUD-1(0.7)","x":9.44,"y":310},{"s":"ZrAl-TUD-1(0.7)","x":9.56,"y":297},{"s":"ZrAl-TUD-1(0.7)","x":9.69,"y":287},{"s":"ZrAl-TUD-1(0.7)","x":9.82,"y":277},{"s":"ZrAl-TUD-1(0.7)","x":9.95,"y":270},{"s":"ZrAl-TUD-1(0.7)","x":10.07,"y":263},{"s":"ZrAl-TUD-1(0.7)","x":10.2,"y":266},{"s":"ZrAl-TUD-1(0.7)","x":10.33,"y":270},{"s":"ZrAl-TUD-1(0.7)","x":10.45,"y":275},{"s":"ZrAl-TUD-1(0.7)","x":10.58,"y":280},{"s":"ZrAl-TUD-1(0.7)","x":10.7,"y":288},{"s":"ZrAl-TUD-1(0.7)","x":10.83,"y":297},{"s":"ZrAl-TUD-1(0.7)","x":10.96,"y":308},{"s":"ZrAl-TUD-1(0.7)","x":11.09,"y":317},{"s":"ZrAl-TUD-1(0.7)","x":11.2,"y":323},{"s":"ZrAl-TUD-1(0.7)","x":11.34,"y":330},{"s":"ZrAl-TUD-1(0.7)","x":11.47,"y":337},{"s":"ZrAl-TUD-1(0.7)","x":11.6,"y":343},{"s":"ZrAl-TUD-1(0.7)","x":11.72,"y":350},{"s":"ZrAl-TUD-1(0.7)","x":11.85,"y":357},{"s":"ZrAl-TUD-1(0.7)","x":11.98,"y":353},{"s":"ZrAl-TUD-1(0.7)","x":12.1,"y":350},{"s":"ZrAl-TUD-1(0.7)","x":12.23,"y":358},{"s":"ZrAl-TUD-1(0.7)","x":12.36,"y":363},{"s":"ZrAl-TUD-1(0.7)","x":12.5,"y":367},{"s":"ZrAl-TUD-1(0.7)","x":12.6,"y":370},{"s":"ZrAl-TUD-1(0.7)","x":12.74,"y":373},{"s":"ZrAl-TUD-1(0.7)","x":12.87,"y":377},{"s":"ZrAl-TUD-1(0.7)","x":13.0,"y":380},{"s":"ZrAl-TUD-1(0.7)","x":13.12,"y":383},{"s":"ZrAl-TUD-1(0.7)","x":13.25,"y":390},{"s":"ZrAl-TUD-1(0.7)","x":13.37,"y":397},{"s":"ZrAl-TUD-1(0.7)","x":13.5,"y":405},{"s":"ZrAl-TUD-1(0.7)","x":13.63,"y":413},{"s":"ZrAl-TUD-1(0.7)","x":13.76,"y":430},{"s":"ZrAl-TUD-1(0.7)","x":13.88,"y":420},{"s":"ZrAl-TUD-1(0.7)","x":14.0,"y":413},{"s":"ZrAl-TUD-1(0.7)","x":14.14,"y":408},{"s":"ZrAl-TUD-1(0.7)","x":14.26,"y":403},{"s":"ZrAl-TUD-1(0.7)","x":14.4,"y":393},{"s":"ZrAl-TUD-1(0.7)","x":14.5,"y":383},{"s":"ZrAl-TUD-1(0.7)","x":14.65,"y":377},{"s":"ZrAl-TUD-1(0.7)","x":14.77,"y":370},{"s":"ZrAl-TUD-1(0.7)","x":14.9,"y":358},{"s":"ZrAl-TUD-1(0.7)","x":15.03,"y":343},{"s":"ZrAl-TUD-1(0.7)","x":15.16,"y":333},{"s":"ZrAl-TUD-1(0.7)","x":15.28,"y":323},{"s":"ZrAl-TUD-1(0.7)","x":15.4,"y":310},{"s":"ZrAl-TUD-1(0.7)","x":15.54,"y":297},{"s":"ZrAl-TUD-1(0.7)","x":15.66,"y":280},{"s":"ZrAl-TUD-1(0.7)","x":15.8,"y":263},{"s":"ZrAl-TUD-1(0.7)","x":15.9,"y":237},{"s":"ZrAl-TUD-1(0.7)","x":15.97,"y":217},{"s":"ZrAl-TUD-1(0.7)","x":16.07,"y":195},{"s":"ZrAl-TUD-1(0.7)","x":16.17,"y":173},{"s":"ZrAl-TUD-1(0.7)","x":16.3,"y":155},{"s":"ZrAl-TUD-1(0.7)","x":16.43,"y":140},{"s":"ZrAl-TUD-1(0.7)","x":16.55,"y":120},{"s":"ZrAl-TUD-1(0.7)","x":16.68,"y":103},{"s":"ZrAl-TUD-1(0.7)","x":16.8,"y":98},{"s":"ZrAl-TUD-1(0.7)","x":16.93,"y":93},{"s":"ZrAl-TUD-1(0.7)","x":17.06,"y":90},{"s":"ZrAl-TUD-1(0.7)","x":17.19,"y":92},{"s":"ZrAl-TUD-1(0.7)","x":17.3,"y":90},{"s":"ZrAl-TUD-1(0.7)","x":17.44,"y":85},{"s":"ZrAl-TUD-1(0.7)","x":17.57,"y":87},{"s":"ZrAl-TUD-1(0.7)","x":17.7,"y":82},{"s":"ZrAl-TUD-1(0.7)","x":17.82,"y":83},{"s":"ZrAl-TUD-1(0.7)","x":17.95,"y":90},{"s":"ZrAl-TUD-1(0.7)","x":18.07,"y":93},{"s":"ZrAl-TUD-1(0.7)","x":18.2,"y":97},{"s":"ZrAl-TUD-1(0.7)","x":18.33,"y":100},{"s":"ZrAl-TUD-1(0.7)","x":18.46,"y":92},{"s":"ZrAl-TUD-1(0.7)","x":18.59,"y":90},{"s":"ZrAl-TUD-1(0.7)","x":18.7,"y":94},{"s":"ZrAl-TUD-1(0.7)","x":18.84,"y":88},{"s":"ZrAl-TUD-1(0.7)","x":18.97,"y":93},{"s":"ZrAl-TUD-1(0.7)","x":19.0,"y":95}
    ],
    "boxes": [
      {"x":181.79,"x2":183.51,"y":510,"y2":474},
      {"x":183.98,"x2":185.70,"y":475,"y2":433}
    ],
    "arrows": [
      {"id":"a1","x":182.29,"y":474,"x2":182.29,"y2":431},
      {"id":"a2","x":183.04,"y":473,"x2":183.43,"y2":431},
      {"id":"a3","x":184.77,"y":433,"x2":184.77,"y2":309},
      {"id":"a4","x":185.12,"y":433,"x2":185.59,"y2":338}
    ],
    "heads": [
      {"id":"a1","x":182.29,"y":434},
      {"id":"a2","x":183.41,"y":434},
      {"id":"a3","x":184.77,"y":312},
      {"id":"a4","x":185.58,"y":341}
    ],
    "mainText": [
      {"x":182.81,"y":490,"t":"Zr 3d"},
      {"x":185.01,"y":455,"t":"Zr 3d"}
    ],
    "subText": [
      {"x":182.83,"y":483,"t":"3/2"},
      {"x":185.03,"y":447,"t":"5/2"}
    ]
  },
  "hconcat": [
    {
      "width": 478,
      "height": 454,
      "encoding": {
        "x": {"field": "x", "type": "quantitative", "scale": {"domain": [181, 189], "nice": false, "zero": false},
              "axis": {"title": "Binding Energy (eV)", "values": [181, 183, 185, 187, 189], "format": "d"}},
        "y": {"field": "y", "type": "quantitative", "scale": {"domain": [0, 454], "nice": false},
              "axis": {"title": "Counts/s  (a.u.)", "titleX": -35, "titleY": 166, "titleBaseline": "middle"}}
      },
      "layer": [
        {
          "data": {"name": "left"},
          "mark": {"type": "line", "strokeWidth": 1.4},
          "encoding": {
            "color": {"field": "s", "type": "nominal",
              "scale": {"domain": ["ZrO2","(Zr)SSIE-beta","(ZrAl)SSIE-beta","Zr-TUD-1","ZrAl-TUD-1(0.3)","ZrAl-TUD-1(0.7)"],
                        "range": ["#111111","#e3262b","#2d7fd2","#f0903a","#7b3fbf","#1fa354"]},
              "legend": {"orient": "none", "legendX": 357, "legendY": -62, "title": null, "symbolType": "M-3,0H3", "symbolSize": 144, "symbolStrokeWidth": 1.5, "labelFont": "Liberation Sans", "labelFontSize": 18, "labelColor": "#222", "rowPadding": 6.7, "labelOffset": 14, "padding": 0}}
          }
        },
        {
          "data": {"name": "boxes"},
          "mark": {"type": "rect", "fill": "white", "stroke": "#222", "strokeWidth": 1.5},
          "encoding": {"x2": {"field": "x2"}, "y2": {"field": "y2"}}
        },
        {
          "data": {"name": "arrows"},
          "mark": {"type": "rule", "color": "#111", "strokeWidth": 1.5},
          "encoding": {"x2": {"field": "x2"}, "y2": {"field": "y2"}}
        },
        {
          "data": {"name": "heads"},
          "transform": [{"filter": "datum.id === 'a1' || datum.id === 'a3'"}],
          "mark": {"type": "point", "shape": "triangle-down", "filled": true, "color": "#111", "opacity": 1, "size": 55},
          "encoding": {}
        },
        {
          "data": {"name": "heads"},
          "transform": [{"filter": "datum.id === 'a2'"}],
          "mark": {"type": "point", "shape": "triangle-down", "filled": true, "color": "#111", "opacity": 1, "size": 55, "angle": 331},
          "encoding": {}
        },
        {
          "data": {"name": "heads"},
          "transform": [{"filter": "datum.id === 'a4'"}],
          "mark": {"type": "point", "shape": "triangle-down", "filled": true, "color": "#111", "opacity": 1, "size": 55, "angle": 343},
          "encoding": {}
        },
        {
          "data": {"name": "mainText"},
          "mark": {"type": "text", "align": "right", "baseline": "middle", "font": "Liberation Sans", "fontSize": 19, "color": "#222"},
          "encoding": {"text": {"field": "t"}}
        },
        {
          "data": {"name": "subText"},
          "mark": {"type": "text", "align": "left", "baseline": "middle", "font": "Liberation Sans", "fontSize": 12, "color": "#222"},
          "encoding": {"text": {"field": "t"}}
        },
        {
          "data": {"values": [{"x": 181.13, "y": 431, "t": "(a)"}]},
          "mark": {"type": "text", "align": "left", "baseline": "middle", "font": "Liberation Sans", "fontSize": 19, "color": "#222"},
          "encoding": {"text": {"field": "t"}}
        }
      ]
    },
    {
      "width": 500,
      "height": 454,
      "encoding": {
        "x": {"field": "x", "type": "quantitative", "scale": {"domain": [1, 19], "nice": false, "zero": false},
              "axis": {"title": "Binding Energy (eV)", "values": [1, 4, 7, 10, 13, 16, 19], "format": "d"}},
        "y": {"field": "y", "type": "quantitative", "scale": {"domain": [0, 454], "nice": false},
              "axis": {"title": "Counts/s  (a.u.)", "titleX": -43, "titleY": 164, "titleBaseline": "middle"}}
      },
      "layer": [
        {
          "data": {"name": "right"},
          "mark": {"type": "line", "strokeWidth": 1.4},
          "encoding": {
            "color": {"field": "s", "type": "nominal",
              "scale": {"domain": ["ZrO2","(Zr)SSIE-beta","(ZrAl)SSIE-beta","Zr-TUD-1","ZrAl-TUD-1(0.3)","ZrAl-TUD-1(0.7)"],
                        "range": ["#111111","#e3262b","#2d7fd2","#f0903a","#7b3fbf","#1fa354"]},
              "legend": {"orient": "none", "legendX": 357, "legendY": -62, "title": null, "symbolType": "M-3,0H3", "symbolSize": 144, "symbolStrokeWidth": 1.5, "labelFont": "Liberation Sans", "labelFontSize": 18, "labelColor": "#222", "rowPadding": 6.7, "labelOffset": 14, "padding": 0}}
          }
        },
        {
          "data": {"values": [{"x": 1.38, "y": 433, "t": "(b)"}]},
          "mark": {"type": "text", "align": "left", "baseline": "middle", "font": "Liberation Sans", "fontSize": 19, "color": "#222"},
          "encoding": {"text": {"field": "t"}}
        }
      ]
    }
  ]
}
